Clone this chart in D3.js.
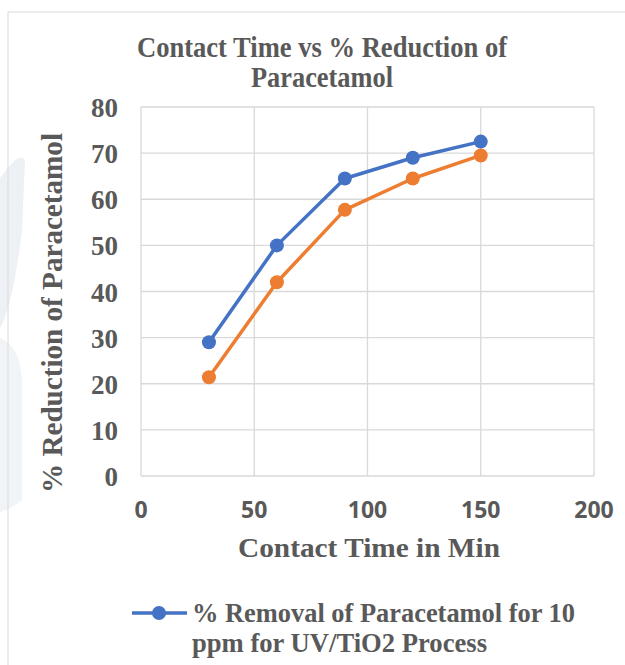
<!DOCTYPE html>
<html>
<head>
<meta charset="utf-8">
<script src="https://cdn.jsdelivr.net/npm/d3@7"></script>
<style>
  body { margin: 0; background: #fff; }
</style>
</head>
<body>
<svg id="chart" width="625" height="665"></svg>
<script>
// Chart data
const contactTime = [30, 60, 90, 120, 150];
const removal10ppm = [29, 50, 64.5, 69, 72.5];
const removalSecond = [21.4, 42, 57.7, 64.5, 69.5];
const xTicks = [0, 50, 100, 150, 200];
const yTicks = [0, 10, 20, 30, 40, 50, 60, 70, 80];
const titleLines = ["Contact Time vs % Reduction of", "Paracetamol"];
const legendLines = ["% Removal of Paracetamol for 10", "ppm for UV/TiO2 Process"];

const serif = "'Liberation Serif', 'Times New Roman', serif";
const sans = "'Open Sans', 'Liberation Sans', Arial, sans-serif";
const textColor = "#595959";

let svg = d3.select("#chart");

// faint decoration at the left edge
svg.append("path")
    .attr("d", "M0,178 C10,165 20,152 25,160 L22,230 C16,280 8,315 0,328 Z")
    .attr("fill", "#edf1f5");
svg.append("path")
    .attr("d", "M0,338 C10,342 20,352 22,380 L22,500 C16,505 8,510 0,512 Z")
    .attr("fill", "#f1f4f7");

// chart border
svg.append("rect")
    .attr("x", 8).attr("y", 12)
    .attr("width", 640).attr("height", 680)
    .attr("fill", "none")
    .attr("stroke", "#d9d9d9")
    .attr("stroke-width", 1);

// Scales
let x = d3.scaleLinear().domain([0, 200]).range([141, 594]);
let y = d3.scaleLinear().domain([0, 80]).range([476, 107]);

// Gridlines
let grid = svg.append("g");
grid.selectAll("line.h")
    .data(yTicks)
    .enter()
    .append("line")
    .attr("class", "h")
    .attr("x1", x(0)).attr("x2", x(200))
    .attr("y1", d => y(d)).attr("y2", d => y(d))
    .attr("stroke", "#d9d9d9")
    .attr("stroke-width", 1.3);
grid.selectAll("line.v")
    .data(xTicks)
    .enter()
    .append("line")
    .attr("class", "v")
    .attr("y1", y(0)).attr("y2", y(80))
    .attr("x1", d => x(d)).attr("x2", d => x(d))
    .attr("stroke", "#d9d9d9")
    .attr("stroke-width", 1.3);

// Y tick labels
svg.append("g")
    .selectAll("text")
    .data(yTicks)
    .enter()
    .append("text")
    .attr("x", 118)
    .attr("y", d => y(d) + 10)
    .attr("text-anchor", "end")
    .style("font-family", serif)
    .style("font-weight", "bold")
    .style("font-size", "27px")
    .style("fill", textColor)
    .text(d => d);

// X tick labels
svg.append("g")
    .selectAll("text")
    .data(xTicks)
    .enter()
    .append("text")
    .attr("x", d => x(d))
    .attr("y", 518)
    .attr("text-anchor", "middle")
    .style("font-family", sans)
    .style("font-weight", "bold")
    .style("font-size", "23px")
    .style("fill", textColor)
    .text(d => d);

// helper for the squeezed serif labels
function serifText(sel, size) {
    return sel.style("font-family", serif)
        .style("font-weight", "bold")
        .style("font-size", size + "px")
        .style("fill", textColor)
        .attr("lengthAdjust", "spacingAndGlyphs");
}

// Title
let titleWidths = [370, 142];
titleLines.forEach((t, i) => {
    serifText(svg.append("text"), 29)
        .attr("x", 322)
        .attr("y", 57 + i * 30)
        .attr("text-anchor", "middle")
        .attr("textLength", titleWidths[i])
        .text(t);
});

// Axis titles
serifText(svg.append("text"), 28)
    .attr("x", 369)
    .attr("y", 557)
    .attr("text-anchor", "middle")
    .attr("textLength", 262)
    .text("Contact Time in Min");

serifText(svg.append("text"), 29)
    .attr("transform", "translate(62,313) rotate(-90)")
    .attr("text-anchor", "middle")
    .attr("textLength", 360)
    .text("% Reduction of Paracetamol");

// Series
let series = [
    { values: removalSecond, color: "#ED7D31" },
    { values: removal10ppm, color: "#4472C4" }
];
let line = d3.line()
    .x((d, i) => x(contactTime[i]))
    .y(d => y(d));

series.forEach(s => {
    svg.append("path")
        .datum(s.values)
        .attr("d", line)
        .attr("fill", "none")
        .attr("stroke", s.color)
        .attr("stroke-width", 3.5)
        .attr("stroke-linejoin", "round");
    svg.append("g")
        .selectAll("circle")
        .data(s.values)
        .enter()
        .append("circle")
        .attr("cx", (d, i) => x(contactTime[i]))
        .attr("cy", d => y(d))
        .attr("r", 7)
        .attr("fill", s.color);
});

// Legend
let legend = svg.append("g");
legend.append("line")
    .attr("x1", 132).attr("x2", 187)
    .attr("y1", 613).attr("y2", 613)
    .attr("stroke", "#4472C4")
    .attr("stroke-width", 3.5);
legend.append("circle")
    .attr("cx", 159).attr("cy", 613).attr("r", 7)
    .attr("fill", "#4472C4");
let legendWidths = [383, 295];
legendLines.forEach((t, i) => {
    serifText(legend.append("text"), 28)
        .attr("x", 192)
        .attr("y", 622 + i * 30)
        .attr("textLength", legendWidths[i])
        .text(t);
});
</script>
</body>
</html>
